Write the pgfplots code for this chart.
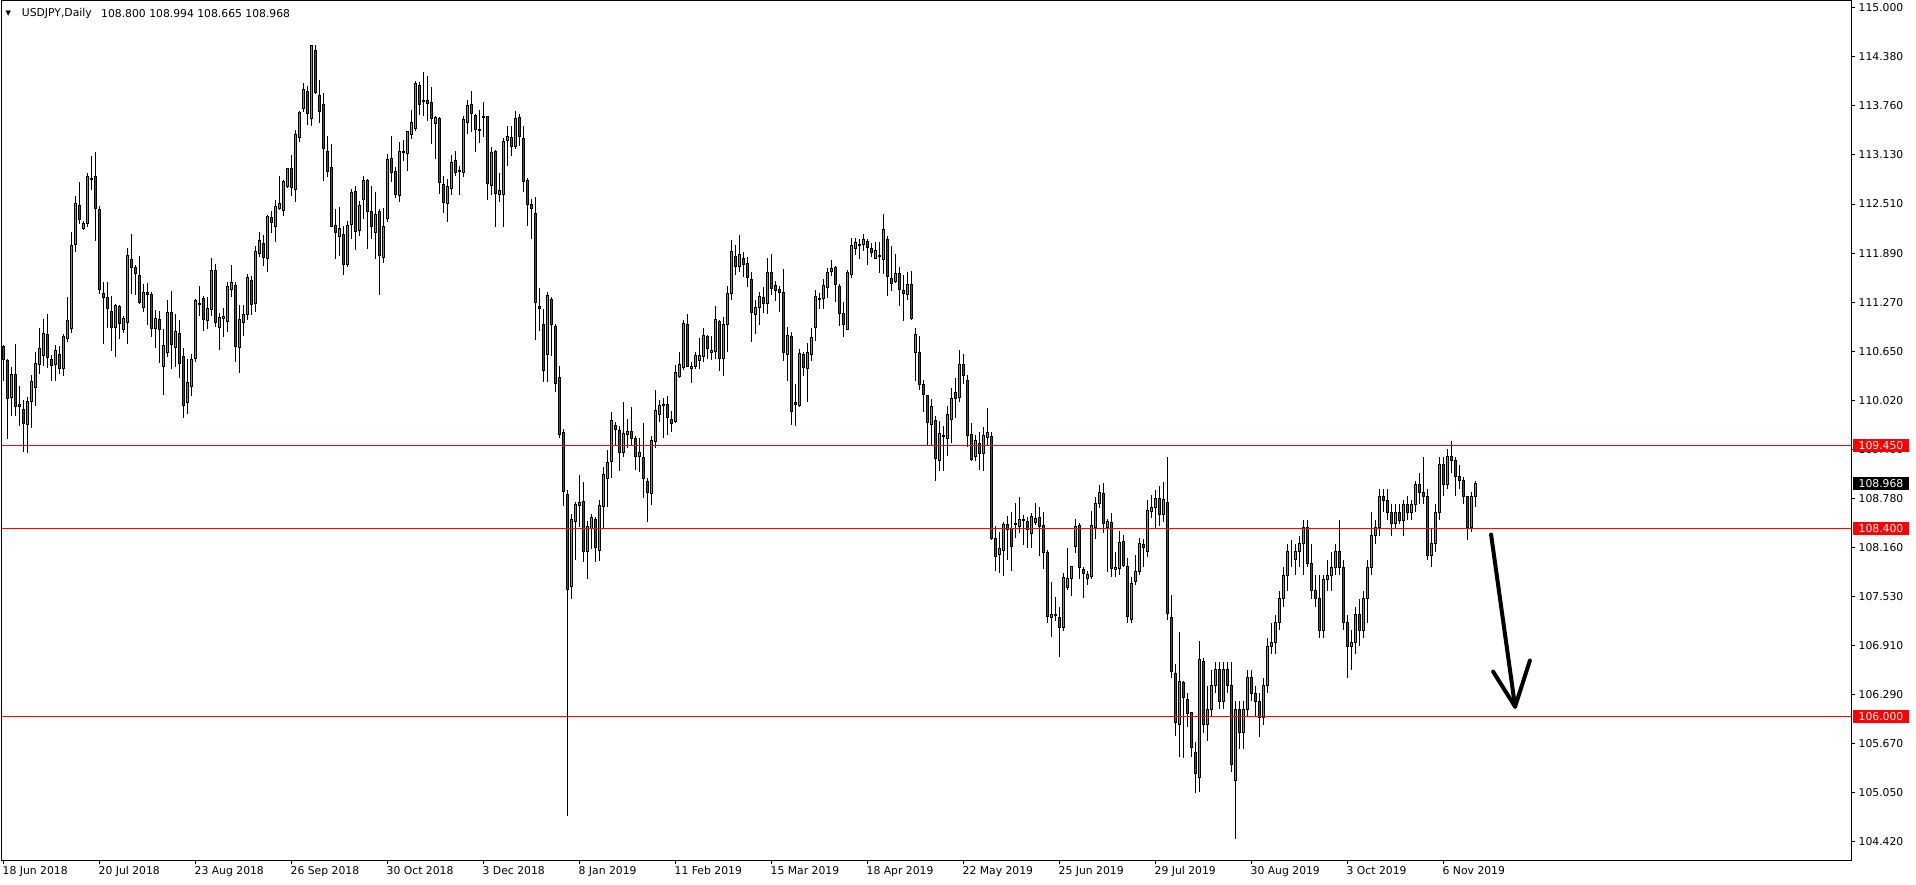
\documentclass[border=0pt]{standalone}
\usepackage{fontspec}
\setmainfont{DejaVu Sans}
\usepackage{pgfplots}
\usepackage{pgfplotstable}
\pgfplotsset{compat=1.18}
\definecolor{bull}{RGB}{50,200,50}
\definecolor{bear}{RGB}{235,10,10}
\definecolor{hline}{RGB}{255,0,0}
\pgfplotstableread{
i O H L C
0 110.706 110.723 110.270 110.533
1 110.524 110.545 109.530 110.038
2 110.059 110.440 109.826 110.342
3 110.342 110.740 109.818 109.945
4 109.962 110.207 109.699 109.945
5 109.902 110.029 109.361 109.729
6 109.716 110.059 109.352 110.004
7 110.008 110.342 109.665 110.258
8 110.186 110.638 109.945 110.482
9 110.478 110.934 110.351 110.676
10 110.583 111.053 110.461 110.867
11 110.854 111.116 110.427 110.558
12 110.533 110.596 110.262 110.465
13 110.469 110.723 110.262 110.651
14 110.596 110.714 110.355 110.427
15 110.418 110.863 110.325 110.824
16 110.799 111.336 110.757 111.032
17 110.934 112.161 110.875 111.983
18 111.992 112.618 111.899 112.512
19 112.487 112.787 112.254 112.309
20 112.195 112.301 112.178 112.258
21 112.258 112.906 112.216 112.863
22 112.829 113.126 112.690 112.817
23 112.859 113.168 112.039 112.449
24 112.440 112.483 111.366 111.425
25 111.374 111.527 110.736 111.324
26 111.324 111.518 110.934 111.188
27 111.146 111.349 110.651 110.947
28 110.947 111.243 110.566 111.222
29 111.209 111.231 110.799 110.989
30 110.913 111.095 110.875 111.053
31 111.011 111.950 110.731 111.857
32 111.802 112.136 111.370 111.700
33 111.700 111.738 111.357 111.624
34 111.603 111.857 111.247 111.256
35 111.201 111.497 111.137 111.387
36 111.387 111.510 110.977 111.357
37 111.357 111.391 110.820 110.935
38 110.935 111.171 110.681 111.061
39 111.040 111.159 110.490 110.913
40 110.452 110.926 110.089 110.715
41 110.630 111.298 110.567 111.129
42 111.129 111.413 110.419 110.723
43 110.685 111.112 110.440 110.892
44 110.863 111.045 110.300 110.482
45 110.571 110.681 109.800 109.950
46 109.995 110.545 109.850 110.249
47 110.198 110.609 110.080 110.537
48 110.554 111.307 110.503 111.281
49 111.231 111.476 111.087 111.248
50 111.307 111.341 110.905 111.045
51 111.032 111.336 110.926 111.180
52 111.171 111.823 111.095 111.662
53 111.662 111.747 110.947 111.002
54 110.947 111.125 110.664 111.074
55 111.053 111.188 110.820 111.083
56 111.023 111.518 110.884 111.459
57 111.421 111.738 111.328 111.510
58 111.476 111.518 110.503 110.706
59 110.693 111.231 110.364 111.040
60 111.011 111.231 110.833 111.108
61 111.104 111.628 111.032 111.573
62 111.539 111.594 111.104 111.231
63 111.252 111.984 111.138 111.907
64 111.886 112.161 111.836 112.043
65 112.005 112.111 111.730 111.836
66 111.814 112.377 111.645 112.347
67 112.339 112.428 112.144 112.280
68 112.221 112.567 112.026 112.474
69 112.457 112.863 112.440 112.512
70 112.424 112.821 112.364 112.796
71 112.736 112.965 112.720 112.956
72 112.956 113.126 112.610 112.724
73 112.690 113.456 112.534 113.392
74 113.354 113.697 113.295 113.667
75 113.718 114.048 113.676 113.959
76 113.938 114.006 113.515 113.663
77 113.591 114.530 113.506 114.522
78 114.458 114.530 113.908 113.921
79 113.887 114.090 113.540 113.688
80 113.773 113.921 112.804 113.210
81 113.176 113.379 112.851 112.927
82 112.973 113.278 112.216 112.229
83 112.237 112.449 111.814 112.144
84 112.102 112.474 111.857 112.195
85 112.123 112.229 111.611 111.747
86 111.742 112.301 111.709 112.237
87 112.254 112.703 112.068 112.652
88 112.669 112.736 111.929 112.166
89 112.174 112.555 112.111 112.491
90 112.563 112.872 112.322 112.808
91 112.808 112.830 111.941 112.419
92 112.415 112.736 112.068 112.229
93 112.144 112.660 111.806 112.377
94 112.419 112.449 111.357 111.861
95 111.836 112.461 111.760 112.221
96 112.330 113.147 112.280 113.075
97 113.088 113.367 112.787 112.914
98 112.923 112.986 112.584 112.635
99 112.622 113.303 112.542 113.176
100 113.159 113.329 113.054 113.172
101 113.155 113.443 112.935 113.430
102 113.388 113.709 113.337 113.544
103 113.473 114.077 113.443 114.035
104 114.014 114.056 113.642 113.777
105 113.815 114.192 113.633 113.819
106 113.819 114.141 113.570 113.781
107 113.794 113.993 113.274 113.599
108 113.536 113.633 113.083 113.608
109 113.595 113.612 112.639 112.787
110 112.753 112.863 112.398 112.533
111 112.512 112.830 112.280 112.728
112 112.711 113.134 112.626 113.041
113 113.058 113.189 112.863 112.914
114 112.935 112.999 112.631 112.927
115 112.906 113.633 112.851 113.583
116 113.549 113.824 113.401 113.760
117 113.773 113.950 113.430 113.663
118 113.633 113.654 113.168 113.451
119 113.456 113.709 113.286 113.439
120 113.612 113.811 113.358 113.621
121 113.621 113.633 112.555 112.766
122 112.745 113.231 112.626 113.164
123 113.176 113.190 112.216 112.648
124 112.626 112.906 112.533 112.681
125 112.635 113.350 112.216 113.303
126 113.312 113.506 112.990 113.367
127 113.350 113.506 113.117 113.244
128 113.244 113.697 113.210 113.595
129 113.608 113.654 113.244 113.371
130 113.346 113.506 112.660 112.800
131 112.808 112.838 112.229 112.508
132 112.504 112.576 112.068 112.457
133 112.390 112.597 110.791 111.264
134 111.210 111.451 110.905 111.188
135 110.981 111.180 110.249 110.397
136 110.596 111.391 110.258 111.349
137 111.298 111.328 110.588 110.977
138 110.956 110.985 110.122 110.228
139 110.304 110.461 109.543 109.589
140 109.606 109.657 108.684 108.866
141 108.824 108.883 104.740 107.618
142 107.652 108.578 107.500 108.506
143 108.485 108.726 107.999 108.693
144 108.680 109.077 108.409 108.722
145 108.735 108.980 107.965 108.105
146 108.100 108.494 107.754 108.417
147 108.396 108.578 108.134 108.536
148 108.506 108.536 107.965 108.147
149 108.113 108.760 107.986 108.684
150 108.671 109.179 108.388 109.073
151 109.031 109.382 108.663 109.225
152 109.247 109.877 109.031 109.759
153 109.699 109.750 109.445 109.644
154 109.632 109.699 109.120 109.352
155 109.361 109.995 109.297 109.593
156 109.581 109.784 109.412 109.619
157 109.619 109.940 109.445 109.530
158 109.530 109.572 109.141 109.310
159 109.310 109.538 109.107 109.352
160 109.289 109.733 108.786 109.031
161 108.989 109.031 108.473 108.845
162 108.841 109.572 108.697 109.505
163 109.500 110.156 109.412 109.885
164 109.843 110.029 109.750 109.949
165 109.949 110.046 109.538 109.961
166 109.961 110.080 109.585 109.805
167 109.771 109.885 109.623 109.729
168 109.750 110.461 109.733 110.368
169 110.325 110.638 110.308 110.469
170 110.431 111.044 110.410 110.989
171 110.981 111.121 110.439 110.448
172 110.418 110.503 110.236 110.444
173 110.452 110.638 110.423 110.583
174 110.528 110.816 110.423 110.583
175 110.579 110.943 110.503 110.837
176 110.824 110.850 110.545 110.681
177 110.630 110.833 110.537 110.651
178 110.643 111.222 110.545 111.040
179 111.019 111.044 110.397 110.554
180 110.545 111.074 110.334 110.977
181 110.977 111.476 110.638 111.370
182 111.370 112.060 111.298 111.907
183 111.844 111.992 111.615 111.721
184 111.713 112.123 111.654 111.865
185 111.814 111.907 111.590 111.747
186 111.751 111.844 111.463 111.573
187 111.552 111.645 110.765 111.137
188 111.112 111.298 110.862 111.192
189 111.192 111.400 110.981 111.341
190 111.319 111.455 111.125 111.252
191 111.252 111.823 111.116 111.637
192 111.637 111.878 111.357 111.434
193 111.472 111.539 111.273 111.417
194 111.425 111.468 111.137 111.383
195 111.383 111.687 110.516 110.621
196 110.605 110.947 110.270 110.841
197 110.829 110.892 109.712 109.881
198 109.995 110.228 109.691 109.961
199 109.957 110.672 109.932 110.613
200 110.600 110.630 110.325 110.440
201 110.427 110.744 109.995 110.626
202 110.605 110.939 110.516 110.816
203 110.947 111.425 110.778 111.336
204 111.294 111.379 111.180 111.307
205 111.307 111.561 111.180 111.476
206 111.446 111.700 111.315 111.637
207 111.649 111.806 111.594 111.692
208 111.704 111.721 111.264 111.484
209 111.463 111.497 110.960 111.125
210 111.121 111.273 110.820 110.985
211 110.922 111.679 110.913 111.637
212 111.620 112.085 111.569 111.979
213 111.941 112.081 111.857 112.022
214 111.988 112.068 111.814 111.996
215 111.992 112.132 111.907 112.060
216 112.034 112.068 111.742 111.954
217 111.950 112.017 111.835 111.899
218 111.823 112.026 111.814 111.916
219 111.852 112.026 111.632 111.844
220 111.802 112.385 111.624 112.187
221 112.060 112.102 111.349 111.594
222 111.565 111.984 111.412 111.505
223 111.527 111.878 111.510 111.624
224 111.624 111.709 111.222 111.425
225 111.408 111.603 111.023 111.370
226 111.357 111.654 111.294 111.484
227 111.484 111.666 111.044 111.053
228 110.621 110.939 110.262 110.850
229 110.621 110.841 110.152 110.220
230 110.215 110.283 109.877 110.088
231 110.080 110.088 109.445 109.741
232 109.716 110.038 109.445 109.936
233 109.758 109.826 109.001 109.285
234 109.259 109.763 109.128 109.593
235 109.555 109.691 109.128 109.572
236 109.530 109.953 109.310 109.835
237 109.780 110.182 109.475 110.038
238 110.114 110.308 109.792 110.046
239 110.059 110.664 109.995 110.469
240 110.469 110.613 110.228 110.334
241 110.270 110.346 109.424 109.576
242 109.581 109.737 109.255 109.268
243 109.310 109.581 109.255 109.505
244 109.471 109.623 109.141 109.348
245 109.348 109.687 109.128 109.572
246 109.551 109.919 109.445 109.606
247 109.560 109.615 108.250 108.261
248 108.261 108.430 107.859 108.041
249 108.058 108.346 107.825 108.138
250 108.109 108.472 107.796 108.443
251 108.439 108.557 107.994 108.375
252 108.388 108.608 107.859 108.168
253 108.439 108.714 108.274 108.451
254 108.418 108.790 108.333 108.507
255 108.507 108.566 108.189 108.490
256 108.481 108.536 108.143 108.375
257 108.324 108.591 108.143 108.545
258 108.473 108.714 108.439 108.515
259 108.532 108.671 108.041 108.422
260 108.430 108.608 107.880 108.083
261 108.088 108.126 107.191 107.280
262 107.259 107.720 107.022 107.301
263 107.284 107.529 107.225 107.301
264 107.259 107.402 106.759 107.140
265 107.140 107.825 107.089 107.766
266 107.648 108.147 107.618 107.753
267 107.753 107.923 107.542 107.910
268 108.168 108.515 108.079 108.418
269 108.426 108.460 107.753 107.901
270 107.868 107.910 107.508 107.817
271 107.762 107.847 107.681 107.808
272 107.783 108.621 107.753 108.426
273 108.409 108.798 108.257 108.705
274 108.705 108.946 108.650 108.849
275 108.832 108.972 108.333 108.451
276 108.409 108.515 107.838 108.481
277 108.464 108.591 107.783 107.880
278 107.868 108.100 107.775 107.901
279 107.880 108.367 107.804 108.210
280 108.227 108.312 107.910 107.923
281 107.914 108.016 107.191 107.280
282 107.233 107.783 107.191 107.690
283 107.724 108.058 107.681 107.851
284 107.851 108.269 107.808 108.197
285 108.189 108.261 107.910 108.155
286 108.096 108.748 108.028 108.621
287 108.612 108.824 108.528 108.654
288 108.663 108.883 108.388 108.769
289 108.769 108.934 108.430 108.574
290 108.566 108.989 108.473 108.756
291 108.718 109.306 107.237 107.309
292 107.259 107.555 106.493 106.582
293 106.548 106.675 105.765 105.934
294 105.900 107.085 105.499 106.450
295 106.434 106.455 105.478 106.252
296 106.218 106.302 105.879 106.049
297 106.057 106.070 105.499 105.617
298 105.545 105.689 105.033 105.287
299 105.236 106.971 105.046 106.726
300 106.700 106.750 105.800 105.900
301 105.900 106.400 105.700 106.100
302 106.100 106.600 106.000 106.400
303 106.400 106.700 106.300 106.600
304 106.600 106.700 106.100 106.200
305 106.200 106.700 106.100 106.600
306 106.600 106.700 106.300 106.400
307 106.400 106.700 105.300 105.400
308 105.200 106.200 104.450 106.100
309 106.100 106.200 105.600 105.800
310 105.800 106.200 105.600 106.100
311 106.100 106.600 106.000 106.500
312 106.500 106.600 106.200 106.300
313 106.300 106.400 106.000 106.200
314 106.200 106.300 105.750 106.000
315 106.000 106.500 105.900 106.400
316 106.400 107.000 106.300 106.900
317 106.900 107.200 106.800 106.950
318 106.950 107.300 106.800 107.200
319 107.200 107.600 107.100 107.500
320 107.500 107.900 107.400 107.800
321 107.800 108.200 107.600 108.100
322 108.100 108.250 107.900 108.100
323 108.000 108.200 107.800 108.100
324 108.100 108.300 107.900 108.200
325 108.200 108.500 107.800 108.400
326 108.400 108.500 107.900 107.950
327 107.950 108.200 107.500 107.600
328 107.600 107.800 107.400 107.500
329 107.500 107.800 107.000 107.100
330 107.100 107.800 107.000 107.750
331 107.750 108.000 107.600 107.800
332 107.800 108.100 107.600 107.900
333 107.900 108.200 107.800 108.100
334 108.100 108.500 107.800 107.900
335 107.900 108.000 107.100 107.200
336 107.200 107.300 106.500 106.900
337 106.900 107.100 106.600 106.950
338 106.950 107.400 106.800 107.300
339 107.300 107.500 106.900 107.100
340 107.100 107.600 107.000 107.500
341 107.500 108.000 107.200 107.900
342 107.900 108.600 107.800 108.300
343 108.300 108.500 108.200 108.400
344 108.400 108.900 108.300 108.800
345 108.800 108.900 108.600 108.750
346 108.750 108.900 108.500 108.600
347 108.600 108.700 108.300 108.450
348 108.450 108.700 108.400 108.600
349 108.600 108.700 108.450 108.500
350 108.500 108.750 108.300 108.700
351 108.700 108.800 108.500 108.600
352 108.600 108.750 108.500 108.700
353 108.700 109.000 108.600 108.950
354 108.950 109.100 108.700 108.850
355 108.850 109.300 108.700 108.800
356 108.800 108.900 108.000 108.050
357 108.050 108.400 107.900 108.200
358 108.200 108.700 108.100 108.600
359 108.600 109.300 108.500 109.200
360 109.200 109.300 108.800 108.950
361 108.950 109.400 108.900 109.300
362 109.300 109.500 109.100 109.250
363 109.250 109.300 108.800 109.050
364 109.050 109.200 108.900 109.000
365 109.000 109.050 108.700 108.800
366 108.800 108.800 108.250 108.400
367 108.400 108.850 108.350 108.800
368 108.800 108.994 108.665 108.968
}\ohlc
% horizontal lines: price read off the line's pixel row
\pgfplotstableread{
x y
-0.5 109.4458
462.125 109.4458
}\lineA
\pgfplotstableread{
x y
-0.5 108.3926
462.125 108.3926
}\lineB
\pgfplotstableread{
x y
-0.5 106.0070
462.125 106.0070
}\lineC
\begin{document}
\begin{tikzpicture}
\path[use as bounding box] (0,0) rectangle (1916pt,884pt);
\pgfplotsset{chartbase/.style={
  at={(1.5pt,23.5pt)}, anchor=south west, scale only axis,
  width=1850.5pt, height=860pt,
  xmin=-0.5, xmax=462.125, ymin=104.1798, ymax=115.0925,
  clip mode=individual,
}}
% frame, ticks and wicks
\begin{axis}[chartbase,
  axis line style={black, line width=1pt},
  tick style={black, line width=1pt},
  tick align=outside, major tick length=3.5pt,
  xtick pos=left, ytick pos=right,
  xtick={0,24,...,360},
  xticklabels={18 Jun 2018, 20 Jul 2018, 23 Aug 2018, 26 Sep 2018, 30 Oct 2018, 3 Dec 2018, 8 Jan 2019, 11 Feb 2019, 15 Mar 2019, 18 Apr 2019, 22 May 2019, 25 Jun 2019, 29 Jul 2019, 30 Aug 2019, 3 Oct 2019, 6 Nov 2019},
  ytick={115, 114.3775, 113.755, 113.1325, 112.51, 111.8875, 111.265, 110.6425, 110.02, 109.3975, 108.775, 108.1525, 107.53, 106.9075, 106.285, 105.6625, 105.04, 104.4175},
  yticklabels={115.000, 114.380, 113.760, 113.130, 112.510, 111.890, 111.270, 110.650, 110.020, 109.400, 108.780, 108.160, 107.530, 106.910, 106.290, 105.670, 105.050, 104.420},
  tick label style={font=\fontsize{10.8pt}{12pt}\selectfont, text=black},
  xticklabel style={anchor=north west, inner sep=0pt, xshift=-1pt, yshift=-2pt},
  yticklabel style={anchor=west, inner sep=0pt, xshift=3pt},
]
\addplot[draw=none, mark=none, forget plot,
  error bars/.cd, y dir=both, y explicit, error mark=none,
  error bar style={draw=black, line width=1pt}]
  table[x=i, y expr={(\thisrow{H}+\thisrow{L})/2}, y error expr={(\thisrow{H}-\thisrow{L})/2}] {\ohlc};
\end{axis}
% candle bodies
\begin{axis}[chartbase, hide axis, ybar stacked, bar width=2.4pt]
\addplot[draw=none, fill=none] table[x=i, y expr={min(\thisrow{O},\thisrow{C})}] {\ohlc};
\addplot[draw=black, line width=1pt, fill=bull] table[x=i, y expr={max(\thisrow{C}-\thisrow{O},0)}] {\ohlc};
\addplot[draw=black, line width=1pt, fill=bear] table[x=i, y expr={max(\thisrow{O}-\thisrow{C},0)}] {\ohlc};
\end{axis}
% objects in the foreground
\begin{axis}[chartbase, hide axis]
\addplot[draw=hline, color=hline, line width=1pt, mark=none] table[x=x, y=y] {\lineA};
\addplot[draw=hline, color=hline, line width=1pt, mark=none] table[x=x, y=y] {\lineB};
\addplot[draw=hline, color=hline, line width=1pt, mark=none] table[x=x, y=y] {\lineC};
\draw[black, line width=4pt, line cap=round] (axis cs:371.9,108.316) -- (axis cs:377.9,106.132);
\draw[black, line width=4pt, line cap=round, line join=round] (axis cs:372.4,106.577) -- (axis cs:377.9,106.132) -- (axis cs:381.6,106.717);
\tikzset{pricebox/.style={anchor=west, text=white, inner xsep=5.5pt, inner ysep=2.4pt, xshift=1pt, font=\fontsize{10.8pt}{12pt}\selectfont}}
\node[pricebox, fill=hline] at (axis cs:462.125,109.4458) {109.450};
\node[pricebox, fill=hline] at (axis cs:462.125,108.3926) {108.400};
\node[pricebox, fill=hline] at (axis cs:462.125,106.0070) {106.000};
\node[pricebox, fill=black] at (axis cs:462.125,108.961) {108.968};
\end{axis}
\node[anchor=west, inner sep=0pt, font=\fontsize{7pt}{8pt}\selectfont] at (5.5pt,870.5pt) {▼};
\node[anchor=west, inner sep=0pt, font=\fontsize{10.8pt}{12pt}\selectfont] at (21.7pt,870.5pt) {USDJPY,Daily};
\node[anchor=west, inner sep=0pt, font=\fontsize{10.8pt}{12pt}\selectfont] at (101pt,870.5pt) {108.800 108.994 108.665 108.968};
\end{tikzpicture}
\end{document}
